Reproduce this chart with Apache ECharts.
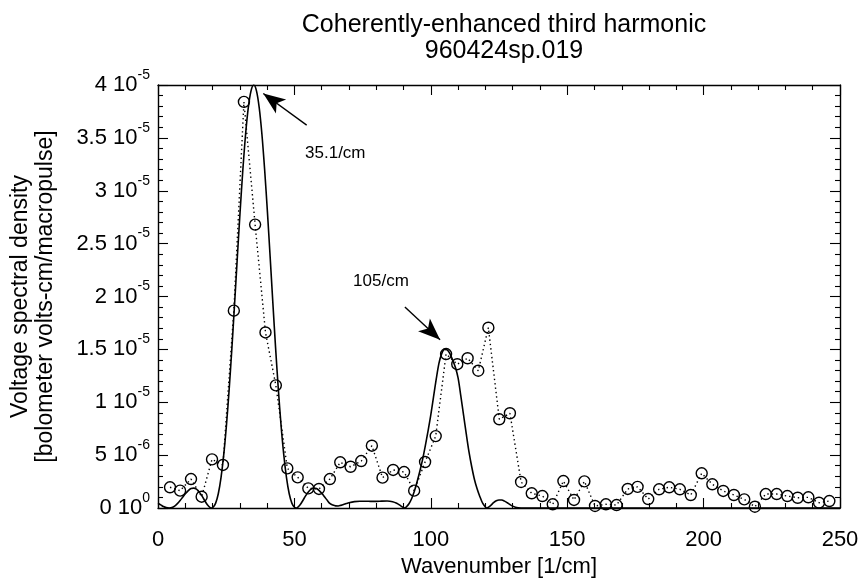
<!DOCTYPE html>
<html>
<head>
<meta charset="utf-8">
<script src="https://cdn.jsdelivr.net/npm/echarts@6/dist/echarts.min.js"></script>
<style>
  html, body { margin: 0; padding: 0; background: #fff; }
  #chart { width: 862px; height: 580px; }
</style>
</head>
<body>
<div id="chart"></div>
<script>
// Measured spectrum samples: wavenumber [1/cm]
const measuredWavenumber = [
  4.4, 8.1, 12.1, 16.0, 19.8, 23.8, 27.8, 31.5, 35.6, 39.4,
  43.2, 47.4, 51.2, 55.1, 59.0, 63.0, 66.8, 70.6, 74.5, 78.4,
  82.3, 86.2, 90.2, 93.9, 97.9, 101.8, 105.6, 109.7, 113.5, 117.4,
  121.1, 125.1, 129.0, 133.1, 137.0, 140.9, 144.7, 148.6, 152.5, 156.3,
  160.2, 164.2, 168.1, 172.2, 175.8, 179.7, 183.7, 187.4, 191.3, 195.3,
  199.3, 203.2, 207.2, 211.1, 214.9, 218.8, 222.8, 226.8, 230.7, 234.5,
  238.4, 242.3, 246.1
];
// Measured voltage spectral density, in units of 1e-6 bolometer volts-cm/macropulse
const measuredDensity = [
  1.96, 1.64, 2.74, 1.07, 4.6, 4.07, 18.66, 38.4, 26.8, 16.6,
  11.6, 3.75, 2.9, 1.86, 1.8, 2.74, 4.32, 3.9, 4.44, 5.89,
  2.87, 3.6, 3.4, 1.64, 4.35, 6.8, 14.56, 13.6, 14.16, 12.98,
  17.05, 8.39, 8.96, 2.46, 1.39, 1.13, 0.35, 2.55, 0.76, 2.52,
  0.19, 0.35, 0.28, 1.8, 2.0, 0.85, 1.77, 1.96, 1.77, 1.23,
  3.28, 2.24, 1.61, 1.23, 0.82, 0.12, 1.32, 1.32, 1.13, 0.97,
  1.01, 0.5, 0.66
];

// Expected spectrum (solid curve): wavenumber [1/cm]
const modelWavenumber = [
  0, 1, 2, 3, 4.1, 5.1, 6.1, 7.1, 8.1, 9.1,
  10.1, 11.1, 12.1, 13.1, 14.1, 15.1, 16.1, 17.1, 18.1, 19.1,
  19.6, 20.1, 21.1, 22.1, 23.1, 24.1, 25.1, 26.1, 27.1, 28.1,
  29.1, 30.1, 31.1, 32.1, 33.1, 34.1, 35.1, 36.1, 37.1, 38.1,
  39.1, 40.1, 41.1, 42.1, 43.1, 44.1, 45.1, 46.1, 47.1, 48.1,
  49.1, 50.1, 50.6, 51.1, 52.1, 53.1, 54.1, 55.1, 56.1, 57.1,
  58.1, 59.1, 60.1, 61.1, 62.1, 63.1, 64.1, 65.1, 66.1, 67,
  68, 69, 70, 72, 74, 76, 78, 80, 82, 84,
  86, 87.5, 89, 90, 90.5, 91, 92, 93, 94, 95,
  96, 97, 98, 99, 100, 101, 102, 103, 104, 105,
  106, 107, 108, 109, 110, 111, 112, 113, 114, 115,
  116, 117, 118, 119, 120, 120.5, 121, 122, 123, 124,
  125, 126, 127, 128, 129, 130, 131, 132, 134, 250
];
// Expected spectral density, units of 1e-6
const modelDensity = [
  0.45, 0.3, 0.14, 0.04, 0, 0.04, 0.18, 0.41, 0.7, 1.04,
  1.37, 1.65, 1.84, 1.88, 1.78, 1.52, 1.15, 0.71, 0.3, 0.04,
  0, 0.04, 0.44, 1.35, 2.88, 5.04, 7.85, 11.26, 15.17, 19.41,
  23.78, 28.05, 31.96, 35.32, 37.86, 39.45, 40.0, 39.45, 37.86, 35.32,
  31.96, 28.05, 23.78, 19.41, 15.17, 11.26, 7.85, 5.04, 2.88, 1.35,
  0.44, 0.04, 0, 0.04, 0.3, 0.71, 1.15, 1.52, 1.78, 1.88,
  1.84, 1.65, 1.37, 1.04, 0.7, 0.41, 0.28, 0.2, 0.19, 0.25,
  0.33, 0.42, 0.5, 0.6, 0.64, 0.64, 0.63, 0.63, 0.65, 0.66,
  0.6, 0.45, 0.2, 0.04, 0, 0.1, 0.4, 0.9, 1.6, 2.5,
  3.5, 4.6, 5.9, 7.3, 8.8, 10.5, 12.2, 13.7, 14.6, 15.0,
  14.95, 14.6, 14.0, 13.3, 12.3, 10.6, 8.8, 7.0, 5.3, 3.9,
  2.7, 1.8, 1.07, 0.45, 0.1, 0, 0.05, 0.25, 0.5, 0.68,
  0.76, 0.75, 0.65, 0.5, 0.33, 0.18, 0.08, 0.03, 0, 0
];

// Y tick labels, written as mantissa and power of ten
const yTickMantissa = ['0', '5', '1', '1.5', '2', '2.5', '3', '3.5', '4'];
const yTickExponent = ['0', '-6', '-5', '-5', '-5', '-5', '-5', '-5', '-5'];

// Peak annotations: text, label anchor, arrow tail and arrow tip (data coords)
const peakLabels = ['35.1/cm', '105/cm'];
const peakLabelAt = [[53.9, 33.5], [71.5, 21.4]];
const peakArrowFrom = [[54.5, 36.2], [90.5, 19.0]];
const peakArrowTo = [[38.6, 39.2], [103.4, 15.9]];

const FONT = '"Liberation Sans", Arial, Helvetica, sans-serif';
const INK = '#000';

const chart = echarts.init(document.getElementById('chart'), null, { renderer: 'canvas' });

function xAxisDef(pos, withLabels) {
  return {
    type: 'value', position: pos, min: 0, max: 250, interval: 50,
    axisLine: { show: true, onZero: false, lineStyle: { color: INK, width: 1.4 } },
    axisTick: { show: true, inside: true, length: 10, lineStyle: { color: INK, width: 1.1 } },
    minorTick: { show: true, splitNumber: 5, length: 5, lineStyle: { color: INK, width: 1.1 } },
    splitLine: { show: false },
    minorSplitLine: { show: false },
    axisLabel: {
      show: withLabels, color: INK, fontSize: 22, fontFamily: FONT, margin: 21
    },
    name: withLabels ? 'Wavenumber [1/cm]' : '',
    nameLocation: 'middle', nameGap: 47,
    nameTextStyle: { color: INK, fontSize: 22, fontFamily: FONT }
  };
}

function yAxisDef(pos, withLabels) {
  return {
    type: 'value', position: pos, min: 0, max: 40, interval: 5,
    axisLine: { show: true, onZero: false, lineStyle: { color: INK, width: 1.4 } },
    axisTick: { show: true, inside: true, length: 10, lineStyle: { color: INK, width: 1.1 } },
    minorTick: { show: true, splitNumber: 5, length: 5, lineStyle: { color: INK, width: 1.1 } },
    splitLine: { show: false },
    minorSplitLine: { show: false },
    axisLabel: {
      show: withLabels, margin: 8, fontFamily: FONT,
      formatter: function (v) {
        const i = Math.round(v / 5);
        return '{m|' + yTickMantissa[i] + ' 10}{e|' + yTickExponent[i] + '}';
      },
      rich: {
        m: { color: INK, fontSize: 22, fontFamily: FONT, lineHeight: 24, verticalAlign: 'middle' },
        e: { color: INK, fontSize: 14, fontFamily: FONT, lineHeight: 14, padding: [0, 0, 20, 0], verticalAlign: 'middle' }
      }
    },
    name: withLabels ? 'Voltage spectral density\n[bolometer volts-cm/macropulse]' : '',
    nameLocation: 'middle', nameGap: 100, nameRotate: 90,
    nameTextStyle: { color: INK, fontSize: 23, fontFamily: FONT, lineHeight: 25, align: 'center' }
  };
}

const measuredPoints = measuredWavenumber.map((x, i) => [x, measuredDensity[i]]);
const modelPoints = modelWavenumber.map((x, i) => [x, modelDensity[i]]);

chart.setOption({
  animation: false,
  backgroundColor: '#fff',
  title: {
    text: 'Coherently-enhanced third harmonic\n960424sp.019',
    left: 499, top: 7, textAlign: 'center',
    textStyle: { color: INK, fontSize: 25, fontWeight: 'normal', fontFamily: FONT, lineHeight: 26 }
  },
  grid: { left: 158, right: 22, top: 85, bottom: 72, containLabel: false, outerBoundsMode: 'none' },
  xAxis: [xAxisDef('bottom', true), xAxisDef('top', false)],
  yAxis: [yAxisDef('left', true), yAxisDef('right', false)],
  series: [
    {
      name: 'model',
      type: 'line',
      data: modelPoints,
      showSymbol: false,
      symbol: 'none',
      smooth: 0.3,
      lineStyle: { color: INK, width: 1.6 },
      silent: true,
      z: 3,
      markLine: {
        silent: true,
        symbolSize: [13, 22],
        lineStyle: { color: INK, width: 1.4, type: 'solid' },
        label: { show: false },
        data: peakArrowFrom.map((from, i) => [
          { coord: from, symbol: 'none' },
          { coord: peakArrowTo[i], symbol: 'arrow' }
        ])
      },
      markPoint: {
        silent: true,
        symbol: 'circle',
        symbolSize: 0,
        label: {
          show: true, position: 'right', distance: 0, formatter: '{b}',
          color: INK, fontSize: 17, fontFamily: FONT
        },
        data: peakLabels.map((t, i) => ({ name: t, coord: peakLabelAt[i] }))
      }
    },
    {
      name: 'measured',
      type: 'line',
      data: measuredPoints,
      symbol: 'circle',
      symbolSize: 11,
      showSymbol: true,
      itemStyle: { color: 'rgba(0,0,0,0)', borderColor: INK, borderWidth: 1.4 },
      lineStyle: { color: INK, width: 1.4, type: [1.4, 3] },
      silent: true,
      z: 4
    }
  ]
});
</script>
</body>
</html>
